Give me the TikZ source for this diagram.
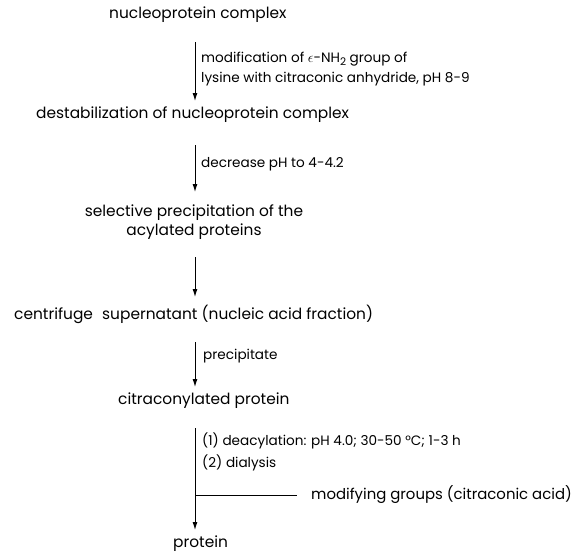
\documentclass[tikz,border=0pt]{standalone}
\usepackage{fontspec}
\setmainfont{Poppins}
\usetikzlibrary{arrows.meta}
\begin{document}
\begin{tikzpicture}[x=1pt,y=-1pt]
\tikzset{
  main/.style={font=\fontsize{15.4}{19}\selectfont, inner sep=0pt, anchor=mid west},
  lab/.style={font=\fontsize{13.6}{20}\selectfont, inner sep=0pt, anchor=mid west},
  flow/.style={line width=1pt, -{Latex[length=8pt,width=5pt]}},
  plain/.style={line width=1pt}
}
\useasboundingbox (0,0) rectangle (581,552);
% steps
\node[main] (n1) at (109,16) {nucleoprotein complex};
\node[main] (n2) at (36,116) {destabilization of nucleoprotein complex};
\node[main, anchor=center, align=center] (n3) at (194,222) {selective precipitation of the\\acylated proteins};
\node[main] (n4) at (14,317) {centrifuge\hspace{0.6em}supernatant (nucleic acid fraction)};
\node[main] (n5) at (118,402) {citraconylated protein};
\node[main] (n6) at (173,545) {protein};
\node[main, font=\fontsize{14.9}{19}\selectfont] (n7) at (311,497) {modifying groups (citraconic acid)};
% labels
\node[lab] (l1a) at (201,60) {modification of $\epsilon$-NH\raisebox{-0.35ex}{\fontsize{10.5}{12}\selectfont 2} group of};
\node[lab] (l1b) at (201,80) {lysine with citraconic anhydride, pH 8-9};
\node[lab] (l2) at (201,165) {decrease pH to 4-4.2};
\node[lab] (l4) at (203,357) {precipitate};
\node[lab] (l5a) at (202,443) {(1) deacylation: pH 4.0; 30-50 °C; 1-3 h};
\node[lab] (l5b) at (202,465) {(2) dialysis};
% arrow end points
\coordinate (a1s) at (195,42);  \coordinate (a1e) at (195,101);
\coordinate (a2s) at (195,145); \coordinate (a2e) at (195,192);
\coordinate (a3s) at (195,257); \coordinate (a3e) at (195,297);
\coordinate (a4s) at (195,342); \coordinate (a4e) at (195,387);
\coordinate (a5s) at (195,428); \coordinate (a5e) at (195,530);
\coordinate (j) at (195,495);
\coordinate (je) at (297,495);
\draw[flow] (a1s) -- (a1e);
\draw[flow] (a2s) -- (a2e);
\draw[flow] (a3s) -- (a3e);
\draw[flow] (a4s) -- (a4e);
\draw[flow] (a5s) -- (a5e);
\draw[plain] (j) -- (je);
\end{tikzpicture}
\end{document}
